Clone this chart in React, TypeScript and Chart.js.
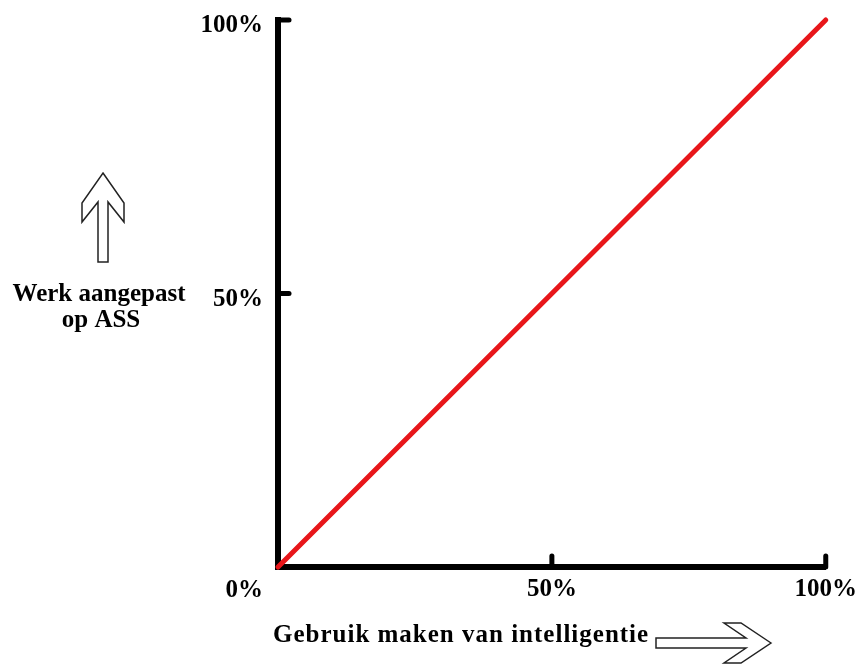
import React, { useEffect, useRef } from "react";
import { Chart, registerables } from "chart.js";

Chart.register(...registerables);

// ---- data ----
const xValues: number[] = [0, 100];
const yValues: number[] = [0, 100];
const xTickLabels: Record<number, string> = { 0: "", 50: "50%", 100: "100%" };
const yTickLabels: Record<number, string> = { 0: "", 50: "50%", 100: "100%" };
const originLabel = "0%";
const xTitle = "Gebruik maken van intelligentie";
const yTitleLines: string[] = ["Werk aangepast", "op ASS"];
const innerTicksX: number[] = [50, 100];
const innerTicksY: number[] = [50, 100];

const FONT_FAMILY = "'Liberation Serif', 'Times New Roman', serif";
const LINE_RED = "rgb(232,22,26)";

const decorPlugin = {
  id: "decor",
  afterDraw(chart: any) {
    const { ctx, chartArea, scales } = chart;
    const xs = scales.x;
    const ys = scales.y;
    ctx.save();
    // inward ticks
    ctx.strokeStyle = "#000";
    ctx.lineWidth = 5;
    ctx.lineCap = "round";
    innerTicksX.forEach((v) => {
      const px = xs.getPixelForValue(v);
      ctx.beginPath();
      ctx.moveTo(px, chartArea.bottom);
      ctx.lineTo(px, chartArea.bottom - 11);
      ctx.stroke();
    });
    innerTicksY.forEach((v) => {
      const py = ys.getPixelForValue(v);
      ctx.beginPath();
      ctx.moveTo(chartArea.left, py);
      ctx.lineTo(chartArea.left + 11, py);
      ctx.stroke();
    });

    // texts
    ctx.fillStyle = "#000";
    ctx.font = `bold 25px ${FONT_FAMILY}`;
    ctx.textBaseline = "alphabetic";
    ctx.textAlign = "right";
    ctx.fillText(originLabel, 263, 597);

    ctx.textAlign = "center";
    ctx.fillText(yTitleLines[0], 99, 301);
    ctx.fillText(yTitleLines[1], 101, 327);

    ctx.textAlign = "left";
    (ctx as any).letterSpacing = "1px";
    ctx.fillText(xTitle, 273, 642);
    (ctx as any).letterSpacing = "0px";

    // arrows
    ctx.lineWidth = 1.5;
    ctx.strokeStyle = "#222";
    ctx.fillStyle = "#fff";
    ctx.lineJoin = "miter";
    const up: [number, number][] = [
      [103, 173], [124, 203], [124, 222], [108, 202], [108, 262],
      [98, 262], [98, 202], [82, 222], [82, 203],
    ];
    const right: [number, number][] = [
      [771, 643], [741, 623], [724, 623], [746, 638], [656, 638],
      [656, 648], [746, 648], [724, 663], [741, 663],
    ];
    [up, right].forEach((poly) => {
      ctx.beginPath();
      poly.forEach(([px, py], i) => (i === 0 ? ctx.moveTo(px, py) : ctx.lineTo(px, py)));
      ctx.closePath();
      ctx.fill();
      ctx.stroke();
    });
    ctx.restore();
  },
};

export default function App() {
  const canvasRef = useRef<HTMLCanvasElement | null>(null);

  useEffect(() => {
    if (!canvasRef.current) return;
    const chart = new Chart(canvasRef.current, {
      type: "line",
      data: {
        datasets: [
          {
            data: xValues.map((x, i) => ({ x, y: yValues[i] })),
            borderColor: LINE_RED,
            borderWidth: 5,
            borderCapStyle: "round",
            pointRadius: 0,
            clip: false as any,
          },
        ],
      },
      options: {
        responsive: false,
        animation: false,
        layout: { padding: { top: 18, right: 38, bottom: 0, left: 0 } },
        plugins: { legend: { display: false }, tooltip: { enabled: false } },
        scales: {
          x: {
            type: "linear",
            min: 0,
            max: 100,
            grid: { display: false, drawTicks: false },
            border: { display: true, color: "#000", width: 6 },
            ticks: {
              stepSize: 50,
              padding: 8,
              color: "#000",
              font: { family: FONT_FAMILY, size: 25, weight: "bold" },
              maxRotation: 0,
              callback: (v: any) => xTickLabels[Number(v)] ?? "",
            },
            afterFit: (s: any) => {
              s.height = 97;
            },
          },
          y: {
            type: "linear",
            min: 0,
            max: 100,
            grid: { display: false, drawTicks: false },
            border: { display: true, color: "#000", width: 6 },
            ticks: {
              stepSize: 50,
              padding: 15,
              labelOffset: 6,
              color: "#000",
              font: { family: FONT_FAMILY, size: 25, weight: "bold", lineHeight: 0.4 },
              callback: (v: any) => yTickLabels[Number(v)] ?? "",
            },
            afterFit: (s: any) => {
              s.width = 278;
            },
          },
        },
      },
      plugins: [decorPlugin],
    });
    return () => chart.destroy();
  }, []);

  return (
    <div style={{ position: "absolute", left: 0, top: 0, width: 865, height: 664, background: "#fff" }}>
      <canvas ref={canvasRef} width={865} height={664} style={{ display: "block" }} />
    </div>
  );
}
